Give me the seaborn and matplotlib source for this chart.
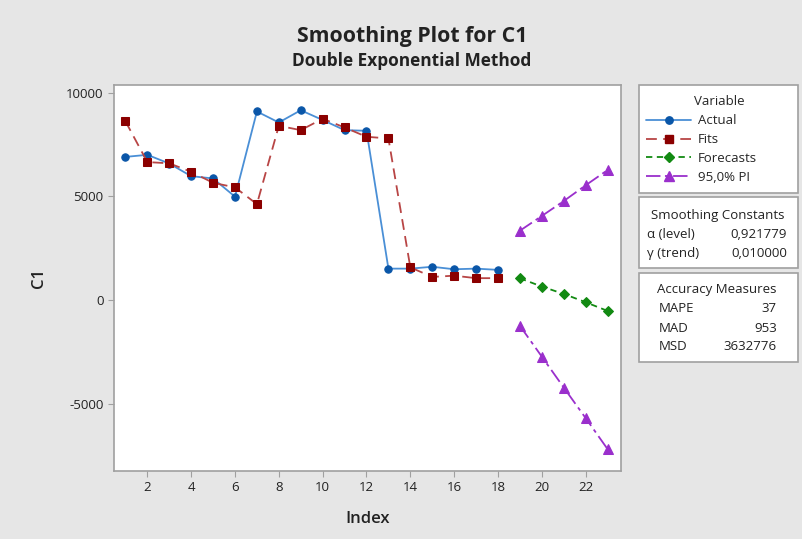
import matplotlib
matplotlib.use("Agg")
from matplotlib import pyplot as plt
from matplotlib.patches import Rectangle
from matplotlib.lines import Line2D
import pandas as pd
import seaborn as sns

# data
index_obs = list(range(1, 19))
actual = [6900, 7000, 6580, 5970, 5860, 4980, 9090, 8560, 9150, 8680,
          8190, 8160, 1510, 1510, 1600, 1480, 1510, 1450]
fits = [8620, 6650, 6590, 6180, 5650, 5430, 4620, 8400, 8190, 8740,
        8320, 7870, 7790, 1570, 1110, 1170, 1050, 1050]
index_fc = list(range(19, 24))
forecasts = [1045, 645, 290, -110, -530]
pi_upper = [3340, 4050, 4770, 5530, 6265]
pi_lower = [-1250, -2735, -4225, -5700, -7195]

alpha_level = "0,921779"
gamma_trend = "0,010000"
mape, mad, msd = "37", "953", "3632776"

obs = pd.DataFrame({"Index": index_obs, "Actual": actual, "Fits": fits})
fc = pd.DataFrame({"Index": index_fc, "Forecasts": forecasts,
                   "Upper": pi_upper, "Lower": pi_lower})

sns.set_style("white")
plt.rcParams["font.family"] = ["Open Sans", "DejaVu Sans"]
plt.rcParams["axes.unicode_minus"] = False

bg = "#e6e6e6"
edge = "#a0a0a0"
c_act_line, c_act = "#4a8fd6", "#0a56a8"
c_fit_line, c_fit = "#b84545", "#8b0000"
c_fc = "#128a12"
c_pi = "#9a2fcc"

f = plt.figure(figsize=(8.03, 5.39), dpi=100, facecolor=bg)
ax = f.add_axes([0.142, 0.127, 0.631, 0.715])
ax.set_facecolor("white")

sns.lineplot(x="Index", y="Actual", data=obs, ax=ax, color=c_act_line, lw=1.3,
             marker="o", markersize=5.3, markerfacecolor=c_act, markeredgecolor=c_act)
sns.lineplot(x="Index", y="Fits", data=obs, ax=ax, color=c_fit_line, lw=1.3,
             dashes=(6, 3.5), marker="s", markersize=5.3,
             markerfacecolor=c_fit, markeredgecolor=c_fit)
sns.lineplot(x="Index", y="Forecasts", data=fc, ax=ax, color=c_fc, lw=1.3,
             dashes=(3.5, 2.5), marker="D", markersize=5.3,
             markerfacecolor=c_fc, markeredgecolor=c_fc)
for col in ["Upper", "Lower"]:
    sns.lineplot(x="Index", y=col, data=fc, ax=ax, color=c_pi, lw=1.3,
                 dashes=(8, 2.5, 2, 2.5), marker="^", markersize=6.8,
                 markerfacecolor=c_pi, markeredgecolor=c_pi)

ax.set_xlim(0.48, 23.6)
ax.set_ylim(-8230, 10360)
ax.set_xticks(range(2, 24, 2))
ax.set_yticks([-5000, 0, 5000, 10000])
ax.tick_params(axis="both", length=4, color=edge, labelsize=9.5,
               labelcolor="#222222", bottom=True, left=True)
for lab in ax.get_xticklabels() + ax.get_yticklabels():
    lab.set_fontweight("medium")
for s in ax.spines.values():
    s.set_color(edge)
    s.set_linewidth(1.2)
ax.set_xlabel("Index", fontsize=12, fontweight="semibold", color="#222222", labelpad=12)
ax.set_ylabel("C1", fontsize=12, fontweight="semibold", color="#222222", labelpad=14)

f.text(0.513, 0.932, "Smoothing Plot for C1", ha="center", va="center",
       fontsize=15.3, fontweight="bold", color="#222222")
f.text(0.513, 0.887, "Double Exponential Method", ha="center", va="center",
       fontsize=12.4, fontweight="bold", color="#222222")

W, H = 803, 539


def box(x0, y0, x1, y1):
    f.patches.append(Rectangle((x0 / W, 1 - y1 / H), (x1 - x0) / W, (y1 - y0) / H,
                               transform=f.transFigure, facecolor="white",
                               edgecolor=edge, lw=1.2))


def txt(x, y, s, ha="left"):
    f.text(x / W, 1 - y / H, s, ha=ha, va="center", fontsize=9.5, color="#222222")


box(639, 85, 798, 193)
box(639, 197, 798, 268)
box(639, 273, 798, 362)

handles = [
    Line2D([], [], color=c_act_line, lw=1.3, marker="o", markersize=5.3,
           markerfacecolor=c_act, markeredgecolor=c_act),
    Line2D([], [], color=c_fit_line, lw=1.3, dashes=(6, 3.5), marker="s", markersize=5.3,
           markerfacecolor=c_fit, markeredgecolor=c_fit),
    Line2D([], [], color=c_fc, lw=1.3, dashes=(3.5, 2.5), marker="D", markersize=5.3,
           markerfacecolor=c_fc, markeredgecolor=c_fc),
    Line2D([], [], color=c_pi, lw=1.3, dashes=(8, 2.5, 2, 2.5), marker="^", markersize=6.5,
           markerfacecolor=c_pi, markeredgecolor=c_pi),
]
leg = f.legend(handles, ["Actual", "Fits", "Forecasts", "95,0% PI"],
               title="Variable", loc="upper left",
               bbox_to_anchor=(641 / W, 1 - 90 / H), frameon=False,
               fontsize=9.5, title_fontsize=9.5, handlelength=3.4,
               labelspacing=0.45, handletextpad=0.5, borderaxespad=0)
leg._legend_box.align = "center"
leg.get_title().set_position((18, 0))

txt(718, 215, "Smoothing Constants", ha="center")
txt(647, 234, "α (level)")
txt(787, 234, alpha_level, ha="right")
txt(647, 253, "γ (trend)")
txt(787, 253, gamma_trend, ha="right")

txt(717, 289, "Accuracy Measures", ha="center")
txt(659, 309, "MAPE")
txt(777, 309, mape, ha="right")
txt(659, 328, "MAD")
txt(777, 328, mad, ha="right")
txt(659, 346, "MSD")
txt(777, 346, msd, ha="right")

f.savefig("out.png", dpi=100, facecolor=bg)
